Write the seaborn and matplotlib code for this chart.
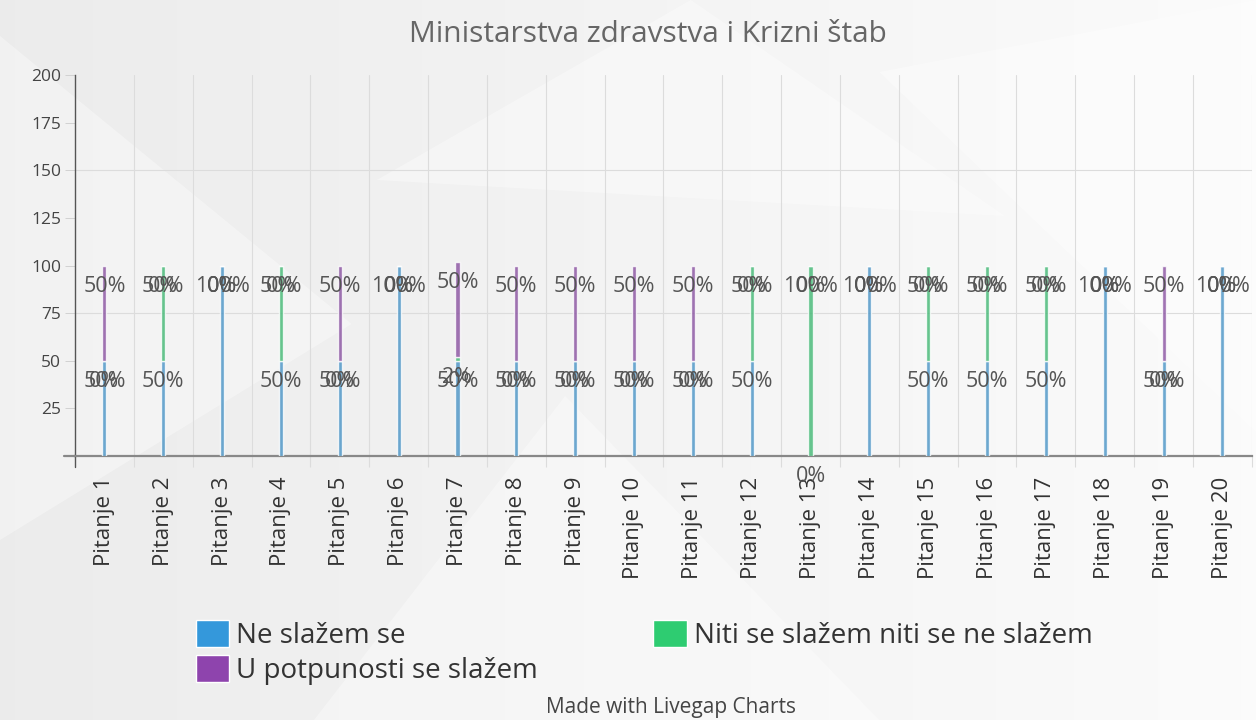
import numpy as np
import pandas as pd
import seaborn as sns
import matplotlib.pyplot as plt
from matplotlib.patches import Patch, Polygon

# Podaci (odgovori po pitanjima, u %)
pitanja = [f"Pitanje {i}" for i in range(1, 21)]
ne_slazem = [50, 50, 100, 50, 50, 100, 50, 50, 50, 50, 50, 50, 0, 100, 50, 50, 50, 100, 50, 100]
niti = [0, 50, 0, 50, 0, 0, 2, 0, 0, 0, 0, 50, 100, 0, 50, 50, 50, 0, 0, 0]
potpuno = [50, 0, 0, 0, 50, 0, 50, 50, 50, 50, 50, 0, 0, 0, 0, 0, 0, 0, 50, 0]

serije = ["Ne slažem se", "Niti se slažem niti se ne slažem", "U potpunosti se slažem"]
boje = ["#3498db", "#2ecc71", "#8e44ad"]

sns.set_theme(style="white")
plt.rcParams["font.family"] = ["Open Sans", "DejaVu Sans"]

fig = plt.figure(figsize=(12.56, 7.2), dpi=100)
fig.patch.set_facecolor("#f1f1f1")

# pozadina: blagi gradijent i svijetli trokuti
bg = fig.add_axes([0, 0, 1, 1], zorder=-10)
grad = np.linspace(0.925, 0.985, 256)[None, :]
bg.imshow(np.dstack([grad, grad, grad]), aspect="auto", extent=[0, 1, 0, 1])
for pts in [[(0.0, 0.95), (0.28, 0.55), (0.0, 0.25)],
            [(0.25, 0.0), (0.45, 0.45), (0.70, 0.0)],
            [(0.30, 0.75), (0.55, 1.0), (0.80, 0.70)],
            [(0.70, 0.9), (1.0, 0.4), (1.0, 1.0)]]:
    bg.add_patch(Polygon(pts, closed=True, color="white", alpha=0.35, lw=0))
bg.set_xlim(0, 1)
bg.set_ylim(0, 1)
bg.axis("off")

ax = fig.add_axes([0.0597, 0.3667, 0.937, 0.529])
ax.set_facecolor("none")

df = pd.DataFrame({"pitanje": pitanja, serije[0]: ne_slazem, serije[1]: niti, serije[2]: potpuno})

bottom = np.zeros(len(pitanja))
for s, c in zip(serije, boje):
    vals = df[s].to_numpy()
    sns.barplot(data=df, x="pitanje", y=s, bottom=bottom, color=c, width=0.07,
                alpha=0.8, ax=ax, zorder=3)
    top = bottom + vals
    for i, (v, t) in enumerate(zip(vals, top)):
        ax.text(i, t - 11, f"{v}%", ha="center", va="center", fontsize=15.5,
                color="#555555", zorder=5, clip_on=False)
    bottom = top

ax.set_xlim(-0.5, len(pitanja) - 0.5)
ax.set_ylim(0, 200)
ax.set_xlabel("")
ax.set_ylabel("")

# mreža
for k in range(1, len(pitanja) + 1):
    ax.axvline(k - 0.5, color="#dcdcdc", lw=0.8, zorder=1)
for yv in [75, 150]:
    ax.axhline(yv, color="#dcdcdc", lw=0.8, zorder=1)

ax.set_xticks([k - 0.5 for k in range(1, len(pitanja) + 1)], minor=True)
ax.tick_params(axis="x", which="minor", length=8, width=0.8, color="#dcdcdc", bottom=True)

ax.set_yticks(range(25, 201, 25))
ax.set_yticklabels([str(v) for v in range(25, 201, 25)], fontsize=12.5, color="#444444")
ax.tick_params(axis="y", length=7, width=0.6, color="#cccccc", pad=3, left=True)
ax.tick_params(axis="x", which="major", length=0, pad=15)
plt.setp(ax.get_xticklabels(), rotation=90, fontsize=16, color="#333333", va="top")

for side in ["top", "right"]:
    ax.spines[side].set_visible(False)
ax.spines["left"].set_color("#555555")
ax.spines["bottom"].set_color("#888888")
ax.spines["left"].set_linewidth(1.0)
ax.spines["bottom"].set_linewidth(1.6)
ax.plot([-0.009, 0], [0, 0], transform=ax.transAxes, color="#888888", lw=1.6, clip_on=False)
ax.plot([0, 0], [-0.03, 0], transform=ax.transAxes, color="#555555", lw=1.0, clip_on=False)

fig.text(0.516, 0.952, "Ministarstva zdravstva i Krizni štab", ha="center", va="center",
         fontsize=21.5, color="#666666")

handles = [Patch(facecolor=boje[0]), Patch(facecolor=boje[2]), Patch(facecolor=boje[1])]
labels = [serije[0], serije[2], serije[1]]
fig.legend(handles, labels, loc="upper left", bbox_to_anchor=(0.145, 0.158), ncol=2,
           frameon=False, fontsize=20, handlelength=1.2, handleheight=1.1,
           handletextpad=0.25, columnspacing=4.15, labelspacing=0.2, borderpad=0,
           labelcolor="#333333")

fig.text(0.534, 0.017, "Made with Livegap Charts", ha="center", va="center",
         fontsize=15, color="#444444")

fig.savefig("out.png", dpi=100, facecolor=fig.get_facecolor())
